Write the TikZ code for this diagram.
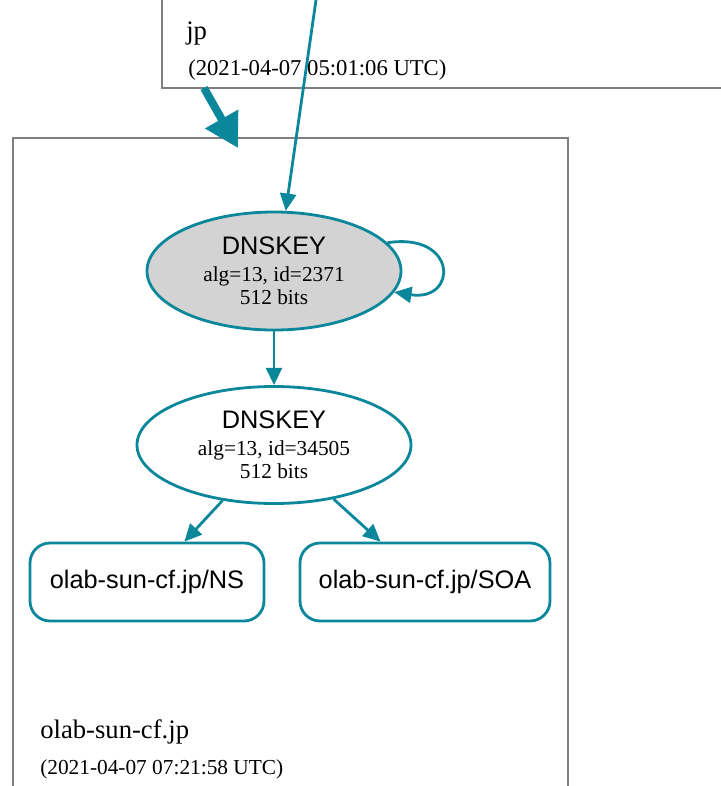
\documentclass[tikz,border=0pt]{standalone}
\usepackage{fontspec}
\setmainfont{Liberation Serif}
\setsansfont{Liberation Sans}
\usetikzlibrary{shapes.geometric,arrows.meta}
\definecolor{secure}{HTML}{0A879A}
\definecolor{zoneline}{HTML}{7F7F7F}
\definecolor{kskfill}{HTML}{D3D3D3}
\tikzset{
  keynode/.style={ellipse,draw=secure,line width=2.1pt,align=center,inner sep=0pt,
    font=\fontsize{16}{17.5}\selectfont},
  rrnode/.style={rectangle,rounded corners=15pt,draw=secure,line width=2.1pt,
    minimum height=58.5pt,font=\sffamily\fontsize{19}{20}\selectfont},
  arr/.style={draw=secure,line width=2.1pt,-{Triangle[length=13pt,width=12pt]}},
  zonename/.style={anchor=base west,inner sep=0pt,font=\fontsize{20}{22}\selectfont},
  zonedate/.style={anchor=base west,inner sep=0pt,font=\fontsize{16}{18}\selectfont}
}
\begin{document}
\begin{tikzpicture}[x=0.75pt,y=-0.75pt]
\useasboundingbox (0,0) rectangle (721,786);
% zones
\draw[zoneline,line width=1.1pt] (162,0) -- (162,88) -- (721,88);
\draw[zoneline,line width=1.1pt] (13,786) -- (13,138) -- (568,138) -- (568,786);
\node[zonename] (jpname) at (186,39) {jp};
\node[zonedate,font=\fontsize{17}{18}\selectfont] (jpdate) at (188,75) {(2021-04-07 05:01:06 UTC)};
\node[zonename] (zname) at (40,738) {olab-sun-cf.jp};
\node[zonedate] (zdate) at (40,774) {(2021-04-07 07:21:58 UTC)};
% keys
\node[keynode,fill=kskfill,minimum width=190.5pt,minimum height=88.5pt] (ksk) at (274,271)
  {{\sffamily\fontsize{19}{19}\selectfont DNSKEY}\\[2.5pt]alg=13, id=2371\\512 bits};
\node[keynode,fill=white,minimum width=205.5pt,minimum height=87.75pt] (zsk) at (274,445)
  {{\sffamily\fontsize{19}{19}\selectfont DNSKEY}\\[2.5pt]alg=13, id=34505\\512 bits};
% rrsets
\node[rrnode,minimum width=175.5pt] (ns) at (147,582) {olab-sun-cf.jp/NS};
\node[rrnode,minimum width=187.5pt] (soa) at (425,582) {olab-sun-cf.jp/SOA};
% edges
\coordinate (dsin) at (316,0);
\coordinate (jpbot) at (204,88);
\coordinate (ztop) at (238,148);
\draw[secure,line width=6pt,-{Triangle[length=25pt,width=27pt]}] (jpbot) -- (ztop);
\draw[arr] (dsin) -- (ksk.79);
\draw[arr] (ksk.14) .. controls (458,232) and (458,302) .. (ksk.-10);
\draw[arr] (ksk) -- (zsk);
\draw[arr] (zsk) -- (ns);
\draw[arr] (zsk) -- (soa);
\end{tikzpicture}
\end{document}
